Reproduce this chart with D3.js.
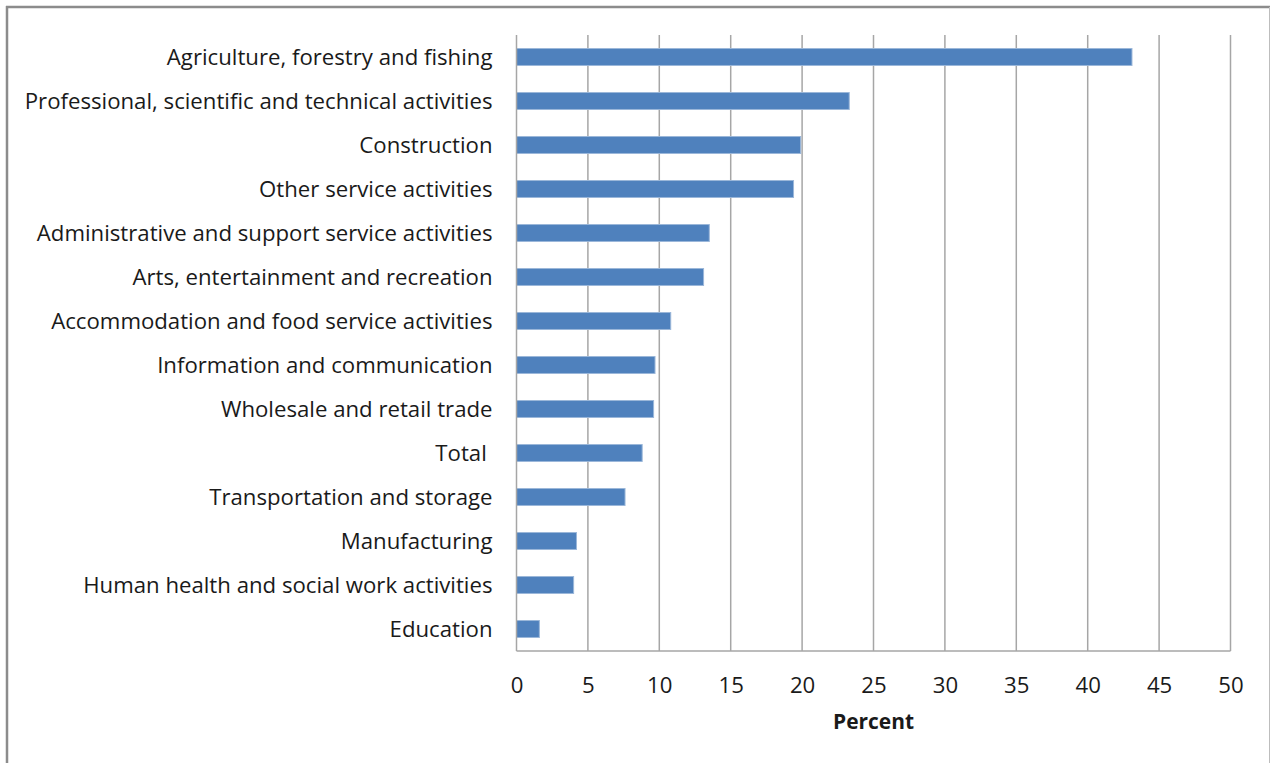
<!DOCTYPE html>
<html>
<head>
<meta charset="utf-8">
<script src="https://cdn.jsdelivr.net/npm/d3@7"></script>
<style>
html,body{margin:0;padding:0;background:#fff;}
svg{display:block;}
text{font-family:"Open Sans",sans-serif;fill:#1a1a1a;}
</style>
</head>
<body>
<svg id="chart" width="1271" height="763"></svg>
<script>
const categories = [
  "Agriculture, forestry and fishing",
  "Professional, scientific and technical activities",
  "Construction",
  "Other service activities",
  "Administrative and support service activities",
  "Arts, entertainment and recreation",
  "Accommodation and food service activities",
  "Information and communication",
  "Wholesale and retail trade",
  "Total ",
  "Transportation and storage",
  "Manufacturing",
  "Human health and social work activities",
  "Education"
];
const values = [43.1, 23.3, 19.9, 19.4, 13.5, 13.1, 10.8, 9.7, 9.6, 8.8, 7.6, 4.2, 4.0, 1.6];
const xTicks = [0, 5, 10, 15, 20, 25, 30, 35, 40, 45, 50];
const xTitle = "Percent";

const svg = d3.select("#chart");
const W = 1271, H = 763;
const m = {left: 516.5, right: 1230.5, top: 35, bottom: 651};
const FONT = "'Open Sans', sans-serif";

// outer frame
svg.append("line").attr("x1", 7).attr("x2", 7).attr("y1", 6).attr("y2", H).attr("stroke", "#8c8c8c").attr("stroke-width", 2.5);
svg.append("line").attr("x1", 6).attr("x2", 1270).attr("y1", 7).attr("y2", 7).attr("stroke", "#8c8c8c").attr("stroke-width", 2.5);
svg.append("line").attr("x1", 1269.5).attr("x2", 1269.5).attr("y1", 7).attr("y2", H).attr("stroke", "#bdbdbd").attr("stroke-width", 1);

const x = d3.scaleLinear().domain([0, 50]).range([m.left, m.right]);
const y = d3.scaleBand().domain(categories).range([m.top, m.bottom]).paddingInner(0.615).paddingOuter(0.3075);

// gridlines
svg.append("g").selectAll("line").data(xTicks.filter(d => d > 0)).join("line")
  .attr("x1", d => x(d)).attr("x2", d => x(d))
  .attr("y1", m.top).attr("y2", m.bottom)
  .attr("stroke", "#a6a6a6").attr("stroke-width", 1.5);

// bars
svg.append("g").selectAll("rect").data(values).join("rect")
  .attr("x", x(0))
  .attr("y", (d, i) => y(categories[i]))
  .attr("width", d => x(d) - x(0))
  .attr("height", y.bandwidth())
  .attr("fill", "#4f81bd")
  .attr("stroke", "#9bb7d9").attr("stroke-width", 1);

// axes lines
svg.append("line").attr("x1", m.left).attr("x2", m.left).attr("y1", m.top).attr("y2", m.bottom).attr("stroke", "#a6a6a6").attr("stroke-width", 1.5);
svg.append("line").attr("x1", m.left).attr("x2", m.right).attr("y1", m.bottom).attr("y2", m.bottom).attr("stroke", "#a6a6a6").attr("stroke-width", 1.5);

// y category labels
const yAxis = d3.axisLeft(y).tickSize(0).tickPadding(0);
const gy = svg.append("g").attr("transform", `translate(${m.left - 24},0)`).call(yAxis);
gy.select(".domain").remove();
gy.selectAll("text").attr("font-size", 20).attr("font-family", FONT)
  .attr("fill", "#1a1a1a").attr("dy", "0.36em").style("white-space", "pre");
// fit label font size to reference width of longest label (~468px)
let maxW = 0;
gy.selectAll("text").each(function(){ maxW = Math.max(maxW, this.getComputedTextLength()); });
const labelSize = 20 * 468 / maxW;
gy.selectAll("text").attr("font-size", labelSize);

// x tick labels
const xAxis = d3.axisBottom(x).tickValues(xTicks).tickSize(0).tickPadding(0);
const gx = svg.append("g").attr("transform", `translate(0,${m.bottom})`).call(xAxis);
gx.select(".domain").remove();
gx.selectAll("text").attr("font-size", labelSize).attr("font-family", FONT)
  .attr("fill", "#1a1a1a").attr("dy", null).attr("y", 42);

// x title
const t = svg.append("text").attr("x", (m.left + m.right) / 2).attr("y", 729)
  .attr("text-anchor", "middle").attr("font-size", 20).attr("font-weight", "bold")
  .attr("font-family", FONT).text(xTitle);
const tw = t.node().getComputedTextLength();
t.attr("font-size", 20 * 81 / tw);
</script>
</body>
</html>
